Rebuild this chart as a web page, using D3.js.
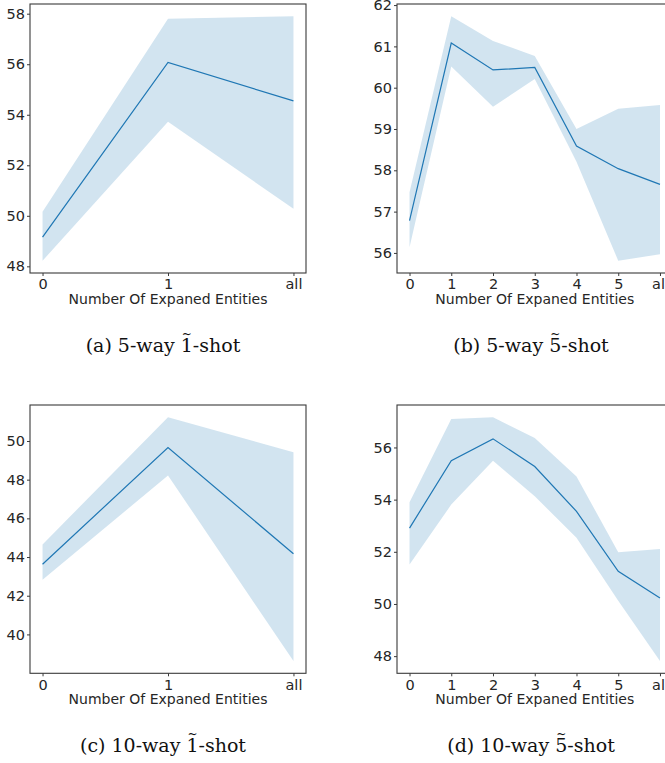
<!DOCTYPE html>
<html>
<head>
<meta charset="utf-8">
<script src="https://d3js.org/d3.v7.min.js"></script>
<style>
  body { margin: 0; background: #fff; }
  svg { display: block; }
</style>
</head>
<body>
<svg id="chart" width="665" height="763"></svg>
<script>
// x categories
var labelsShort = ["0", "1", "all"];
var labelsLong = ["0", "1", "2", "3", "4", "5", "all"];

// (a) 5-way 1-shot
var meanA = [49.16, 56.07, 54.55];
var lowA = [48.22, 53.72, 50.28];
var highA = [50.16, 57.80, 57.90];
var ticksA = [48, 50, 52, 54, 56, 58];

// (b) 5-way 5-shot
var meanB = [56.78, 61.08, 60.43, 60.49, 58.59, 58.04, 57.66];
var lowB = [56.14, 60.51, 59.54, 60.21, 58.21, 55.81, 55.97];
var highB = [57.47, 61.73, 61.13, 60.77, 59.00, 59.49, 59.58];
var ticksB = [56, 57, 58, 59, 60, 61, 62];

// (c) 10-way 1-shot
var meanC = [43.63, 49.66, 44.17];
var lowC = [42.82, 48.22, 38.62];
var highC = [44.65, 51.23, 49.42];
var ticksC = [40, 42, 44, 46, 48, 50];

// (d) 10-way 5-shot
var meanD = [52.91, 55.49, 56.33, 55.27, 53.55, 51.25, 50.23];
var lowD = [51.51, 53.81, 55.49, 54.13, 52.54, 50.12, 47.81];
var highD = [53.90, 57.09, 57.16, 56.36, 54.89, 51.98, 52.11];
var ticksD = [48, 50, 52, 54, 56];

// captions: prefix + shot digit (drawn with a tilde) + suffix
var capPrefix = ["(a) 5-way ", "(b) 5-way ", "(c) 10-way ", "(d) 10-way "];
var capShot = ["1", "5", "1", "5"];
var capSuffix = "-shot";

var xTitle = "Number Of Expaned Entities";
var blue = "#1f77b4";
var textColor = "#262626";
var capSize = 19;

var svg = d3.select("#chart");

var panels = [
    {labels: labelsShort, mean: meanA, low: lowA, high: highA, ticks: ticksA,
     box: {left: 30, right: 306, top: 4, bottom: 273}, capX: 163, capY: 352},
    {labels: labelsLong, mean: meanB, low: lowB, high: highB, ticks: ticksB,
     box: {left: 397, right: 672.5, top: 4, bottom: 273}, capX: 531, capY: 352},
    {labels: labelsShort, mean: meanC, low: lowC, high: highC, ticks: ticksC,
     box: {left: 30, right: 306, top: 405, bottom: 673.3}, capX: 163, capY: 752},
    {labels: labelsLong, mean: meanD, low: lowD, high: highD, ticks: ticksD,
     box: {left: 397, right: 672.5, top: 405, bottom: 673.3}, capX: 531, capY: 752}
];

panels.forEach(function (p, k) {
    var n = p.labels.length;
    var idx = d3.range(n);

    // matplotlib style 5% margins
    var lo = d3.min(p.low), hi = d3.max(p.high);
    var m = (hi - lo) * 0.05;

    var x = d3.scaleLinear()
                .domain([-0.05 * (n - 1), 1.05 * (n - 1)])
                .range([p.box.left, p.box.right]);
    var y = d3.scaleLinear()
                .domain([lo - m, hi + m])
                .range([p.box.bottom, p.box.top]);

    var g = svg.append("g");

    var area = d3.area()
                   .x(function (d) { return x(d); })
                   .y0(function (d) { return y(p.low[d]); })
                   .y1(function (d) { return y(p.high[d]); });

    var line = d3.line()
                   .x(function (d) { return x(d); })
                   .y(function (d) { return y(p.mean[d]); });

    g.append("path")
        .datum(idx)
        .attr("d", area)
        .attr("fill", blue)
        .attr("fill-opacity", 0.2);

    g.append("path")
        .datum(idx)
        .attr("d", line)
        .attr("fill", "none")
        .attr("stroke", blue)
        .attr("stroke-width", 1.2);

    // frame
    g.append("rect")
        .attr("x", p.box.left)
        .attr("y", p.box.top)
        .attr("width", p.box.right - p.box.left)
        .attr("height", p.box.bottom - p.box.top)
        .attr("fill", "none")
        .attr("stroke", "#3a3a3a")
        .attr("stroke-width", 1.1);

    var xAxis = g.append("g")
                   .attr("transform", "translate(0," + p.box.bottom + ")")
                   .call(d3.axisBottom(x)
                           .tickValues(idx)
                           .tickFormat(function (d) { return p.labels[d]; })
                           .tickSize(3)
                           .tickPadding(3));

    var yAxis = g.append("g")
                   .attr("transform", "translate(" + p.box.left + ",0)")
                   .call(d3.axisLeft(y)
                           .tickValues(p.ticks)
                           .tickFormat(d3.format("d"))
                           .tickSize(3)
                           .tickPadding(2));

    [xAxis, yAxis].forEach(function (a) {
        a.select(".domain").remove();
        a.selectAll(".tick line").attr("stroke", "#3a3a3a");
        a.selectAll(".tick text")
            .attr("fill", textColor)
            .style("font-family", "DejaVu Sans")
            .style("font-size", "14.5px");
    });

    g.append("text")
        .attr("x", (p.box.left + p.box.right) / 2)
        .attr("y", p.box.bottom + 31)
        .attr("text-anchor", "middle")
        .attr("fill", textColor)
        .style("font-family", "DejaVu Sans")
        .style("font-size", "14px")
        .text(xTitle);

    // caption
    var cap = g.append("text")
                 .attr("x", p.capX)
                 .attr("y", p.capY)
                 .attr("text-anchor", "middle")
                 .attr("fill", "#111")
                 .style("font-family", "DejaVu Serif")
                 .style("font-size", capSize + "px")
                 .text(capPrefix[k] + capShot[k] + capSuffix);

    var ext = cap.node().getExtentOfChar(capPrefix[k].length);
    g.append("text")
        .attr("x", ext.x + ext.width / 2)
        .attr("y", p.capY - capSize * 0.72)
        .attr("text-anchor", "middle")
        .attr("fill", "#111")
        .style("font-family", "DejaVu Serif")
        .style("font-size", "12px")
        .text("~");
});
</script>
</body>
</html>
